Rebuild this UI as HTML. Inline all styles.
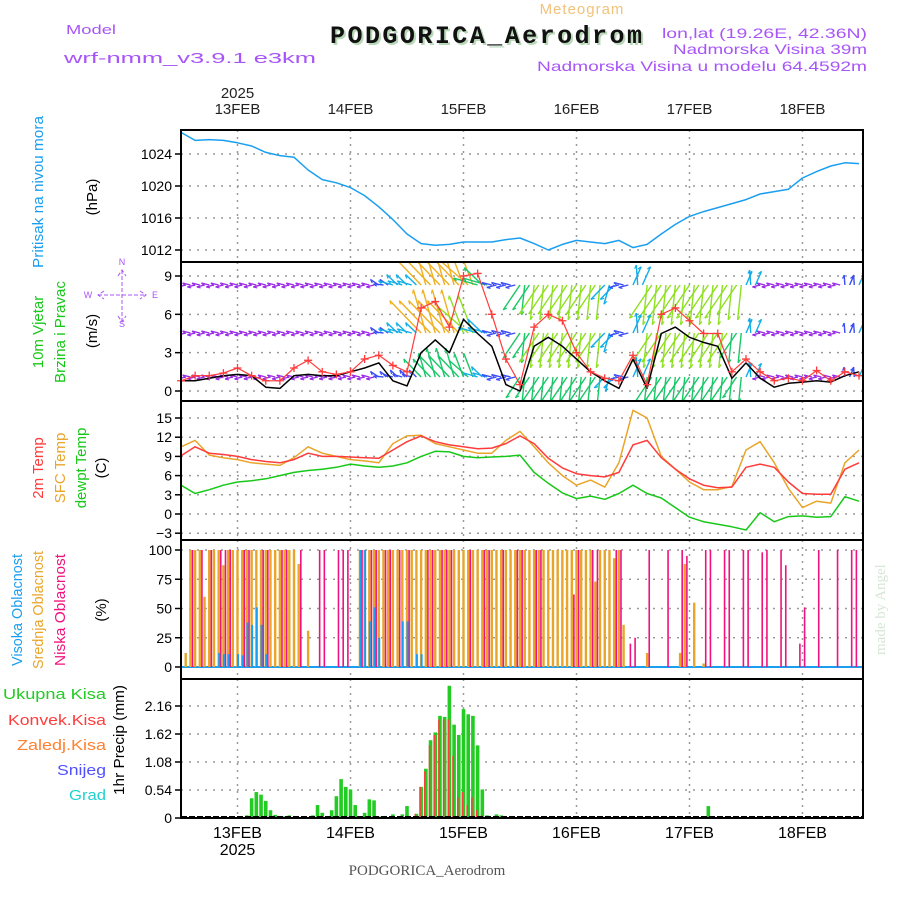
<!DOCTYPE html>
<html><head><meta charset="utf-8">
<style>
html,body{margin:0;padding:0;background:#fff;}
svg{display:block;font-family:"Liberation Sans",sans-serif;}
</style></head>
<body>
<svg id="chart" width="900" height="900" viewBox="0 0 900 900" xmlns="http://www.w3.org/2000/svg">
<rect x="0" y="0" width="900" height="900" fill="#fff"/>
<text x="582" y="14" font-size="15" fill="#f2c27a" text-anchor="middle" letter-spacing="1">Meteogram</text>
<text x="66" y="34" font-size="13" fill="#a855f7" textLength="50" lengthAdjust="spacingAndGlyphs">Model</text>
<text x="64" y="63" font-size="15" fill="#a855f7" textLength="252" lengthAdjust="spacingAndGlyphs">wrf-nmm_v3.9.1 e3km</text>
<text x="332" y="45" font-size="25" font-weight="bold" fill="#b8d8b8" font-family="Liberation Mono,monospace" textLength="312">PODGORICA_Aerodrom</text>
<text x="330" y="43" font-size="25" font-weight="bold" fill="#111" font-family="Liberation Mono,monospace" textLength="312">PODGORICA_Aerodrom</text>
<text x="662" y="38" font-size="14" fill="#a855f7" textLength="205" lengthAdjust="spacingAndGlyphs">lon,lat (19.26E, 42.36N)</text>
<text x="673" y="54" font-size="14" fill="#a855f7" textLength="194" lengthAdjust="spacingAndGlyphs">Nadmorska Visina 39m</text>
<text x="537" y="71" font-size="14" fill="#a855f7" textLength="330" lengthAdjust="spacingAndGlyphs">Nadmorska Visina u modelu 64.4592m</text>
<text transform="translate(885,655) rotate(-90)" font-size="15" fill="#d6e6d6" font-family="Liberation Serif,serif">made by Angel</text>
<text x="427" y="875" font-size="15" fill="#555" text-anchor="middle" font-family="Liberation Serif,serif">PODGORICA_Aerodrom</text>
<g id="g"></g>
</svg>
<script>
// ---- data (time axis: hours since 12FEB 12:00 UTC) ----
const dayLabels = ["13FEB","14FEB","15FEB","16FEB","17FEB","18FEB"];
const dayHours = [12,36,60,84,108,132];
const step3hHours = [0,3,6,9,12,15,18,21,24,27,30,33,36,39,42,45,48,51,54,57,60,63,66,69,72,75,78,81,84,87,90,93,96,99,102,105,108,111,114,117,120,123,126,129,132,135,138,141,144];
const pressure = [1026.7,1025.7,1025.8,1025.7,1025.4,1025.0,1024.2,1023.8,1023.6,1022.0,1020.8,1020.4,1019.8,1018.8,1017.4,1015.8,1014.0,1012.8,1012.6,1012.7,1013.0,1013.0,1013.0,1013.3,1013.5,1012.8,1012.0,1012.7,1013.2,1013.0,1012.8,1013.2,1012.3,1012.7,1014.0,1015.2,1016.2,1016.8,1017.3,1017.8,1018.3,1019.0,1019.3,1019.6,1021.0,1021.8,1022.5,1022.9,1022.8];
const pressureTicks = [1012,1016,1020,1024];
const windSpeed = [0.8,0.8,1.0,1.2,1.3,1.2,0.3,0.2,1.2,1.3,1.2,1.2,1.5,1.8,2.2,0.8,0.4,3.0,4.0,3.0,5.6,4.5,3.5,0.5,0.0,3.5,4.2,3.5,2.5,1.5,0.8,0.2,2.5,0.2,4.5,5.0,4.2,3.8,3.5,1.0,2.2,1.0,0.3,0.6,0.7,0.8,0.7,1.2,1.5];
const windGust = [0.8,1.2,1.2,1.4,1.8,1.2,0.8,0.8,1.8,2.4,1.5,1.3,1.5,2.5,2.8,2.0,1.5,6.5,7.0,5.0,9.0,9.2,6.0,2.5,0.5,5.0,6.0,5.5,3.0,1.5,1.0,0.8,2.8,0.5,6.0,6.5,5.5,4.5,4.5,1.5,2.5,1.5,0.8,1.0,0.8,1.6,0.8,1.5,1.2];
const windTicks = [0,3,6,9];
const barbTopSpeed = [1,1,1,1,1,1,1,1,1,1,1,1,1,1,2,3,3,10,11,11,10,5,2,2,6,7,7,7,7,7,4,2,4,8,8,8,8,8,8,7,3,1,1,1,1,1,1,2,3];
const barbMidSpeed = [1,1,1,1,1,1,1,1,1,1,1,1,1,1,2,3,3,9,9,9,8,4,2,2,6,7,7,7,7,7,4,2,4,7,7,7,7,7,7,6,3,1,1,1,1,1,1,2,3];
const barbLowSpeed = [1,1,1,1,1,1,1,1,1,1,1,1,1,1,2,2,2,5,6,6,5,3,2,2,5,6,6,6,6,6,3,2,4,6,6,6,6,6,6,5,3,1,1,1,1,1,1,2,3];
const barbAngle = [180,180,180,180,180,180,180,180,180,180,180,180,180,180,160,150,150,120,120,120,125,150,180,180,250,250,250,250,250,250,240,180,80,250,250,250,250,250,250,250,80,180,180,180,180,180,180,80,80];
const temp2m = [9.1,10.5,9.5,9.3,9.0,8.5,8.2,8.0,8.5,9.5,9.0,9.0,8.9,8.8,8.7,10.0,11.3,12.2,11.3,10.8,10.5,10.2,10.3,11.0,12.2,11.0,8.7,7.2,6.3,6.0,5.8,6.5,10.8,11.5,8.8,7.0,5.5,4.5,4.1,4.2,7.3,7.8,7.3,5.0,3.2,3.1,3.1,7.0,8.0];
const tempSfc = [10.5,11.5,9.2,8.8,8.5,8.0,7.8,7.6,8.8,10.5,9.5,9.0,8.5,8.3,8.0,11.0,12.2,12.3,11.0,10.5,10.0,9.5,9.5,11.5,12.9,10.5,8.0,6.0,4.5,5.3,4.2,8.0,16.2,15.0,9.0,7.0,5.0,3.8,3.8,4.3,10.0,11.3,8.0,4.0,1.0,2.0,1.7,8.0,10.0];
const tempDew = [4.5,3.2,3.8,4.5,5.0,5.2,5.5,6.0,6.5,6.8,7.0,7.3,7.8,7.5,7.3,7.5,8.0,9.0,9.8,9.7,9.0,8.8,8.9,9.0,9.2,6.5,4.8,3.3,2.4,2.8,2.3,3.2,4.5,3.2,2.5,1.0,-0.5,-1.2,-1.6,-2.0,-2.5,0.2,-1.2,-0.4,-0.3,-0.5,-0.4,2.7,2.0];
const tempTicks = [-3,0,3,6,9,12,15];
const cloudMid = [0,12,100,100,100,60,100,100,100,87,100,100,100,100,100,100,100,100,100,100,100,100,100,100,100,88,0,31,0,0,0,0,0,0,0,0,0,0,100,100,100,100,100,100,100,100,100,100,100,100,100,100,100,100,100,100,100,100,100,100,100,100,100,100,100,100,100,100,100,100,100,100,100,100,100,100,100,100,100,100,100,100,100,100,100,100,100,100,73,100,100,100,93,100,36,0,0,0,0,12,0,0,0,0,0,0,12,88,0,55,0,3,0,0,0,0,0,0,0,0,0,0,0,0,0,0,0,0,0,0,0,0,0,0,0,0,0,0,0,0,0,0,0,0,0];
const cloudLowHours = [2,4,6,8,9,10,13,14,17,18,21,22,25,29,30,33,34,35,38,40,41,43,44,46,48,52,53,55,56,57,61,64,65,68,71,72,75,76,83,84,87,88,92,93,95,96,99,103,106,107,111,112,115,116,119,120,123,124,127,128,131,132,135,139,142,143];
const cloudLowVals = [100,100,100,100,100,100,100,100,100,100,100,100,100,100,100,100,100,100,100,100,100,100,100,100,100,100,100,100,100,100,100,100,100,100,100,100,100,100,62,100,100,100,100,100,20,25,100,100,100,95,100,100,100,100,100,100,98,100,100,87,20,51,100,100,100,100];
const cloudHighHours = [8,9,10,12,13,14,15,16,17,18,38,39,40,41,42,47,48,50,51];
const cloudHighVals = [12,11,11,11,10,38,36,51,36,11,100,100,39,51,25,39,39,11,11];
const cloudTicks = [0,25,50,75,100];
const precipHours = [14,15,16,17,18,19,20,21,22,23,28,29,30,32,33,34,35,36,37,39,40,41,42,45,47,48,50,51,52,53,54,55,56,57,58,59,60,61,62,63,64,65,67,68,112,113,140];
const precipTotal = [0.05,0.38,0.5,0.45,0.33,0.15,0.06,0.04,0.03,0.05,0.05,0.25,0.1,0.15,0.42,0.75,0.6,0.55,0.25,0.1,0.36,0.34,0.03,0.07,0.07,0.23,0.08,0.6,0.95,1.5,1.65,1.97,1.95,2.55,1.8,1.6,2.1,2.0,1.97,1.4,0.55,0.05,0.07,0.05,0.23,0.02,0.02];
const precipConv = [0,0,0,0,0,0,0,0,0,0,0,0,0,0,0,0,0,0,0,0,0,0,0,0,0,0,0.08,0.6,0.9,1.4,1.6,1.9,1.9,1.9,1.2,0.4,0.5,0.25,0.4,0.15,0.05,0.03,0,0,0,0,0];
const precipTicks = [0,0.54,1.08,1.62,2.16];

// ---- helpers ----
const NS = "http://www.w3.org/2000/svg";
const G = document.getElementById("g");
const L = 181, R = 863;
function X(h){ return L + h * 113 / 24; }
function el(tag, attrs, parent){ const e = document.createElementNS(NS, tag); for (const k in attrs) e.setAttribute(k, attrs[k]); (parent || G).appendChild(e); return e; }
function scale(v0, y0, v1, y1){ return v => y0 + (v - v0) * (y1 - y0) / (v1 - v0); }

const panels = [
  {top:130, bot:262, name:"pressure-panel"},
  {top:262, bot:401, name:"wind-panel"},
  {top:401, bot:540, name:"temperature-panel"},
  {top:540, bot:679, name:"cloud-panel"},
  {top:679, bot:818, name:"precip-panel"}
];
const Yp = scale(1012, 250, 1024, 154);
const Yw = scale(0, 391, 9, 276);
const Yt = scale(0, 514, 15, 418);
const Yc = scale(0, 667, 100, 550);
const Yr = scale(0, 818, 2.16, 706);

// gridlines
panels.forEach(p => {
  dayHours.forEach(h => {
    const gl = el("line", {x1:X(h), x2:X(h), y1:p.top, y2:p.bot, stroke:"#999", "stroke-width":1.5, "stroke-dasharray":"2,5"});
    
    
  });
});
function hgrid(ticks, Y, fmt){
  ticks.forEach(t => {
    const gl = el("line", {x1:L, x2:R, y1:Y(t), y2:Y(t), stroke:"#999", "stroke-width":1.5, "stroke-dasharray":"2,6"});
    
    
    const tk = el("line", {x1:L-6, x2:L, y1:Y(t), y2:Y(t), stroke:"#000", "stroke-width":1.5});
    
    
    const tx = el("text", {x:L-9, y:Y(t)+5, "font-size":14, "text-anchor":"end", fill:"#000"});
    tx.textContent = fmt ? fmt(t) : t;
    
    
  });
}
hgrid(pressureTicks, Yp);
hgrid(windTicks, Yw);
hgrid(tempTicks, Yt, t => t < 0 ? "\u2212" + (-t) : t);
hgrid(cloudTicks, Yc);
hgrid(precipTicks, Yr, t => t === 0 ? "0" : t.toFixed(2));

function line(xs, ys, color, name, w){
  const pts = xs.map((h, i) => X(h).toFixed(1) + "," + ys[i].toFixed(1)).join(" ");
  const pl = el("polyline", {points:pts, fill:"none", stroke:color, "stroke-width":w || 1.5, "stroke-linejoin":"round"});
  
  
  return pl;
}

// pressure
line(step3hHours, pressure.map(Yp), "#1a9ff0", "pressure-line");

// wind barbs
function barbColor(s){ return s < 2 ? "#9a2be6" : s < 3 ? "#3a4df5" : s < 5 ? "#12aee8" : s < 7 ? "#18c868" : s < 9 ? "#8fe020" : "#f0b020"; }
const clipDef = el("clipPath", {id:"windclip"});
el("rect", {x:L, y:262, width:R-L, height:139}, clipDef);
const barbG = el("g", {"clip-path":"url(#windclip)"});


const rows = [[285, barbTopSpeed], [333, barbMidSpeed], [377, barbLowSpeed]];
rows.forEach(([yb, sp]) => {
  for (let hh = 0; hh <= 144; hh++){
    const i = Math.min(48, Math.floor(hh / 3));
    const s = sp[i];
    const a = (barbAngle[i] + ((hh % 2) ? 14 : -14)) * Math.PI / 180;
    const len = Math.max(8, s * 5);
    const x0 = X(hh), x1 = x0 + Math.cos(a) * len, y1 = yb - Math.sin(a) * len;
    const b = el("line", {x1:x0, y1:yb, x2:x1, y2:y1, stroke:barbColor(s), "stroke-width":1.4}, barbG);
    
    
    const hd = el("line", {x1:x1, y1:y1, x2:x1 - Math.cos(a - 0.5) * 4, y2:y1 + Math.sin(a - 0.5) * 4, stroke:barbColor(s), "stroke-width":1.2}, barbG);
    
    
  }
});
line(step3hHours, windSpeed.map(Yw), "#000", "wind-speed-line");
line(step3hHours, windGust.map(Yw), "#ff3b3b", "wind-gust-line", 1.2);
step3hHours.forEach((h, i) => {
  const y = Yw(windGust[i]), x = X(h);
  const m = el("path", {d:`M${x-4},${y}H${x+4}M${x},${y-4}V${y+4}`, stroke:"#ff3b3b", "stroke-width":1.3});
  
  
});

// temperature
line(step3hHours, tempSfc.map(Yt), "#e8a52a", "sfc-temp-line");
line(step3hHours, temp2m.map(Yt), "#ff3b3b", "temp-2m-line");
line(step3hHours, tempDew.map(Yt), "#18c818", "dewpoint-line");

// cloud
const hz = el("line", {x1:L, x2:R, y1:Yc(0), y2:Yc(0), stroke:"#1a9ff0", "stroke-width":2});


cloudMid.forEach((v, h) => {
  if (!v) return;
  const r = el("rect", {x:X(h)-1.2, y:Yc(v), width:2.4, height:Yc(0)-Yc(v), fill:"#e8a52a"});
  
  
});
cloudLowHours.forEach((h, i) => {
  const v = cloudLowVals[i];
  const r = el("rect", {x:X(h)+1.3, y:Yc(v), width:1.6, height:Yc(0)-Yc(v), fill:"#f0127e"});
  
  
});
cloudHighHours.forEach((h, i) => {
  const v = cloudHighVals[i];
  const r = el("rect", {x:X(h)-0.5, y:Yc(v), width:2, height:Yc(0)-Yc(v), fill:"#1a9ff0"});
  
  
});

// precip
precipHours.forEach((h, i) => {
  const v = precipTotal[i];
  const r = el("rect", {x:X(h)-1.8, y:Yr(v), width:3.6, height:Yr(0)-Yr(v), fill:"#22cc22"});
  
  
  const c = precipConv[i];
  if (c > 0){
    const rc = el("rect", {x:X(h)-1.8, y:Yr(c), width:1.5, height:Yr(0)-Yr(c), fill:"#ff3b3b"});
    
    
  }
});
const pz = el("line", {x1:L, x2:R, y1:817, y2:817, stroke:"#000", "stroke-width":2, "stroke-dasharray":"6,2"});



// panel frames
panels.forEach(p => {
  const fr = el("rect", {x:L, y:p.top, width:R-L, height:p.bot-p.top, fill:"none", stroke:"#000", "stroke-width":2});
  
  
});

// x-axis labels
dayHours.forEach((h, i) => {
  const t = el("text", {x:X(h), y:114, "font-size":15, "text-anchor":"middle", fill:"#222"});
  t.textContent = dayLabels[i];
  
  
  const b = el("text", {x:X(h), y:838, "font-size":16, "text-anchor":"middle", fill:"#000"});
  b.textContent = dayLabels[i];
  
  
});
const y1 = el("text", {x:X(12), y:98, "font-size":15, "text-anchor":"middle", fill:"#222"});
y1.textContent = "2025";


const y2 = el("text", {x:X(12), y:855, "font-size":16, "text-anchor":"middle", fill:"#000"});
y2.textContent = "2025";



// rotated axis titles
function vtext(x, y, txt, color, name, len){
  const a = {transform:`translate(${x},${y}) rotate(-90)`, "font-size":15, "text-anchor":"middle", fill:color};
  if (len){ a.textLength = len; a.lengthAdjust = "spacingAndGlyphs"; }
  const t = el("text", a);
  t.textContent = txt;
  
  
}
vtext(43, 192, "Pritisak na nivou mora", "#1a9ff0", "pressure-title", 152);
vtext(97, 197, "(hPa)", "#000", "pressure-unit");
vtext(43, 332, "10m Vjetar", "#18c818", "wind-title-1");
vtext(65, 332, "Brzina i Pravac", "#18c818", "wind-title-2", 102);
vtext(97, 331, "(m/s)", "#000", "wind-unit");
vtext(43, 468, "2m Temp", "#ff3b3b", "temp-2m-title");
vtext(65, 468, "SFC Temp", "#e8a52a", "sfc-temp-title");
vtext(86, 468, "dewpt Temp", "#18c818", "dewpoint-title");
vtext(106, 468, "(C)", "#000", "temp-unit");
vtext(22, 610, "Visoka Oblacnost", "#1a9ff0", "high-cloud-title", 112);
vtext(43, 610, "Srednja Oblacnost", "#e8a52a", "mid-cloud-title", 118);
vtext(65, 610, "Niska Oblacnost", "#f0127e", "low-cloud-title", 112);
vtext(106, 610, "(%)", "#000", "cloud-unit");
vtext(124, 740, "1hr Precip (mm)", "#000", "precip-title", 110);

// compass
const cmp = [["N",122,265],["W",88,298],["E",155,298],["S",122,327]];
cmp.forEach(c => {
  const t = el("text", {x:c[1], y:c[2], "font-size":9, "text-anchor":"middle", fill:"#a855f7"});
  t.textContent = c[0];
  
  
});
const cp = el("path", {d:"M122,270V322M98,295H146M118,276L122,270L126,276M118,316L122,322L126,316M104,291L98,295L104,299M140,291L146,295L140,299", stroke:"#a855f7", "stroke-width":1, fill:"none", "stroke-dasharray":"4,2"});



// precip legend
const leg = [["Ukupna  Kisa","#22cc22",699,3],["Konvek.Kisa","#ff3b3b",725,8],["Zaledj.Kisa","#ff8030",750,17],["Snijeg","#5050ff",775,57],["Grad","#20d0d0",800,69]];
leg.forEach(l => {
  const t = el("text", {x:l[3], y:l[2], "font-size":15, fill:l[1], textLength:106-l[3], lengthAdjust:"spacingAndGlyphs"});
  t.textContent = l[0];
  
  
});
</script>
</body></html>
